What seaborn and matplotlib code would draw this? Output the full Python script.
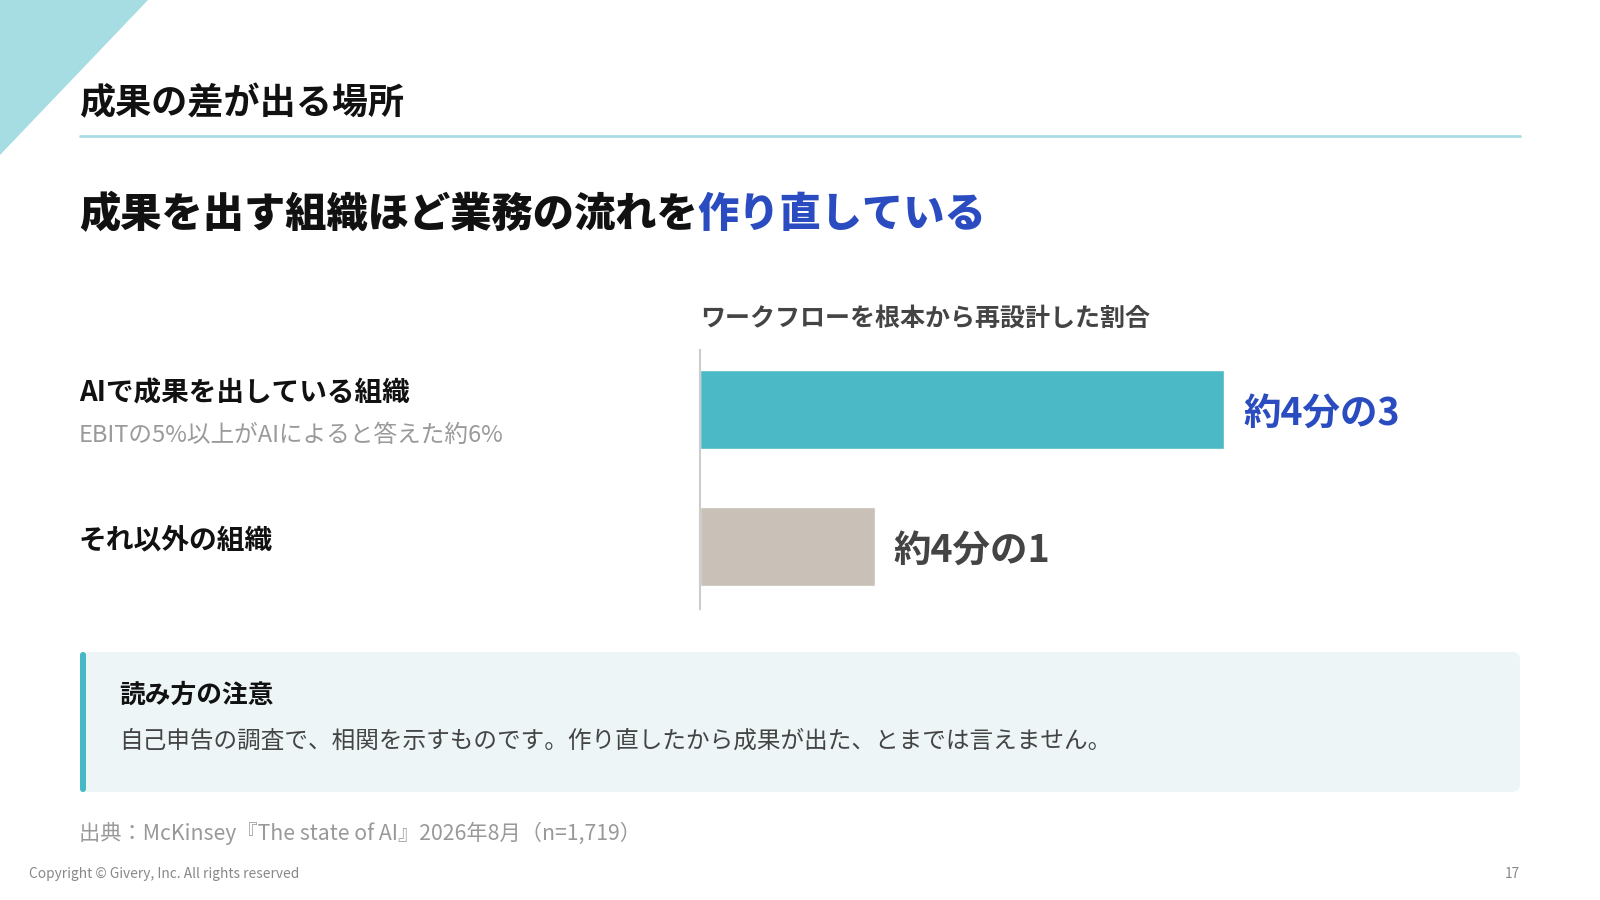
import matplotlib
matplotlib.use("Agg")
import matplotlib.pyplot as plt
import matplotlib.transforms as mtransforms
from matplotlib.patches import Polygon, FancyBboxPatch
import seaborn as sns

# data
groups = ["AIで成果を出している組織", "それ以外の組織"]
group_notes = ["EBITの5%以上がAIによると答えた約6%", ""]
shares = [75, 25]
share_labels = ["約4分の3", "約4分の1"]
bar_colors = ["#4bb9c6", "#c9c0b8"]
label_colors = ["#2a4cc0", "#444444"]

page_title = "成果の差が出る場所"
headline_black = "成果を出す組織ほど業務の流れを"
headline_blue = "作り直している"
chart_title = "ワークフローを根本から再設計した割合"
note_title = "読み方の注意"
note_body = "自己申告の調査で、相関を示すものです。作り直したから成果が出た、とまでは言えません。"
source = "出典：McKinsey『The state of AI』2026年8月（n=1,719）"
copyright_txt = "Copyright © Givery, Inc. All rights reserved"
page_no = "17"

sns.set_style("white")
plt.rcParams['font.family'] = ['Noto Sans CJK JP', 'DejaVu Sans']

W, H = 1600, 900
fig = plt.figure(figsize=(16, 9), dpi=100)
fig.patch.set_facecolor("white")

def fx(px):
    return px / W

def fy(py):
    return 1 - py / H

# corner triangle
fig.patches.append(Polygon([(0, 1), (fx(148), 1), (0, fy(155))], closed=True,
                           transform=fig.transFigure, facecolor="#a6dde3", edgecolor="none"))

# page title + rule
fig.text(fx(79), fy(104), page_title, fontsize=26, fontweight="bold", color="#111111",
         va="center", ha="left")
fig.add_artist(plt.Line2D([fx(80), fx(1520)], [fy(136), fy(136)], color="#a9dbe3", lw=2))

# headline with blue tail
t1 = fig.text(fx(79), fy(215), headline_black, fontsize=29.7, fontweight="heavy",
              color="#111111", va="center", ha="left")
renderer = fig.canvas.get_renderer()
bb = t1.get_window_extent(renderer=renderer)
fig.text(bb.x1 / W, fy(215), headline_blue, fontsize=29.7, fontweight="heavy",
         color="#2a4cc0", va="center", ha="left")

# bar chart
ax = fig.add_axes([fx(700), fy(609), fx(1520) - fx(700), (609 - 350) / H])
sns.barplot(x=shares, y=groups, hue=groups, palette=bar_colors, orient="h",
            width=0.58, legend=False, ax=ax, saturation=1)
ax.set_xlim(0, 117.3)
ax.set_ylim(1.456, -0.434)
ax.set_xlabel("")
ax.set_ylabel("")
ax.set_xticks([])
ax.set_yticks([])
for s in ["top", "right", "bottom"]:
    ax.spines[s].set_visible(False)
ax.spines["left"].set_color("#cccccc")
ax.spines["left"].set_linewidth(1.5)
ax.patch.set_alpha(0)

for i, (v, lab) in enumerate(zip(shares, share_labels)):
    ax.annotate(lab, (v, i), xytext=(13.5, -3), textcoords="offset points",
                fontsize=27, fontweight="bold", color=label_colors[i],
                va="center", ha="left", annotation_clip=False)

fig.text(fx(700), fy(319), chart_title, fontsize=18, fontweight="bold",
         color="#444444", va="center", ha="left")

# category labels on the left
blend = mtransforms.blended_transform_factory(fig.transFigure, ax.transData)
fig.text(fx(79), -0.12, groups[0], transform=blend, fontsize=19.9, fontweight="bold",
         color="#111111", va="center", ha="left")
fig.text(fx(79), 0.186, group_notes[0], transform=blend, fontsize=17,
         color="#9a9a9a", va="center", ha="left")
fig.text(fx(79), 0.958, groups[1], transform=blend, fontsize=20, fontweight="bold",
         color="#111111", va="center", ha="left")

# note box
inch = fig.dpi_scale_trans
fig.patches.append(FancyBboxPatch((0.80, (H - 792) / 100), 14.4, 1.40,
                                  boxstyle="round,pad=0,rounding_size=0.08",
                                  transform=inch, facecolor="#edf5f6", edgecolor="none"))
fig.patches.append(FancyBboxPatch((0.80, (H - 792) / 100), 0.06, 1.40,
                                  boxstyle="round,pad=0,rounding_size=0.03",
                                  transform=inch, facecolor="#45b8c4", edgecolor="none"))
fig.text(fx(119), fy(695), note_title, fontsize=18.5, fontweight="bold",
         color="#111111", va="center", ha="left")
fig.text(fx(119), fy(741), note_body, fontsize=17, color="#444444",
         va="center", ha="left")

# footer
fig.text(fx(79), fy(833), source, fontsize=15.3, color="#999999", va="center", ha="left")
fig.text(fx(29), fy(874), copyright_txt, fontsize=9.9, color="#888888",
         va="center", ha="left")
fig.text(fx(1520), fy(874), page_no, fontsize=9.9, color="#888888",
         va="center", ha="right")

fig.savefig("out.png", dpi=100)
